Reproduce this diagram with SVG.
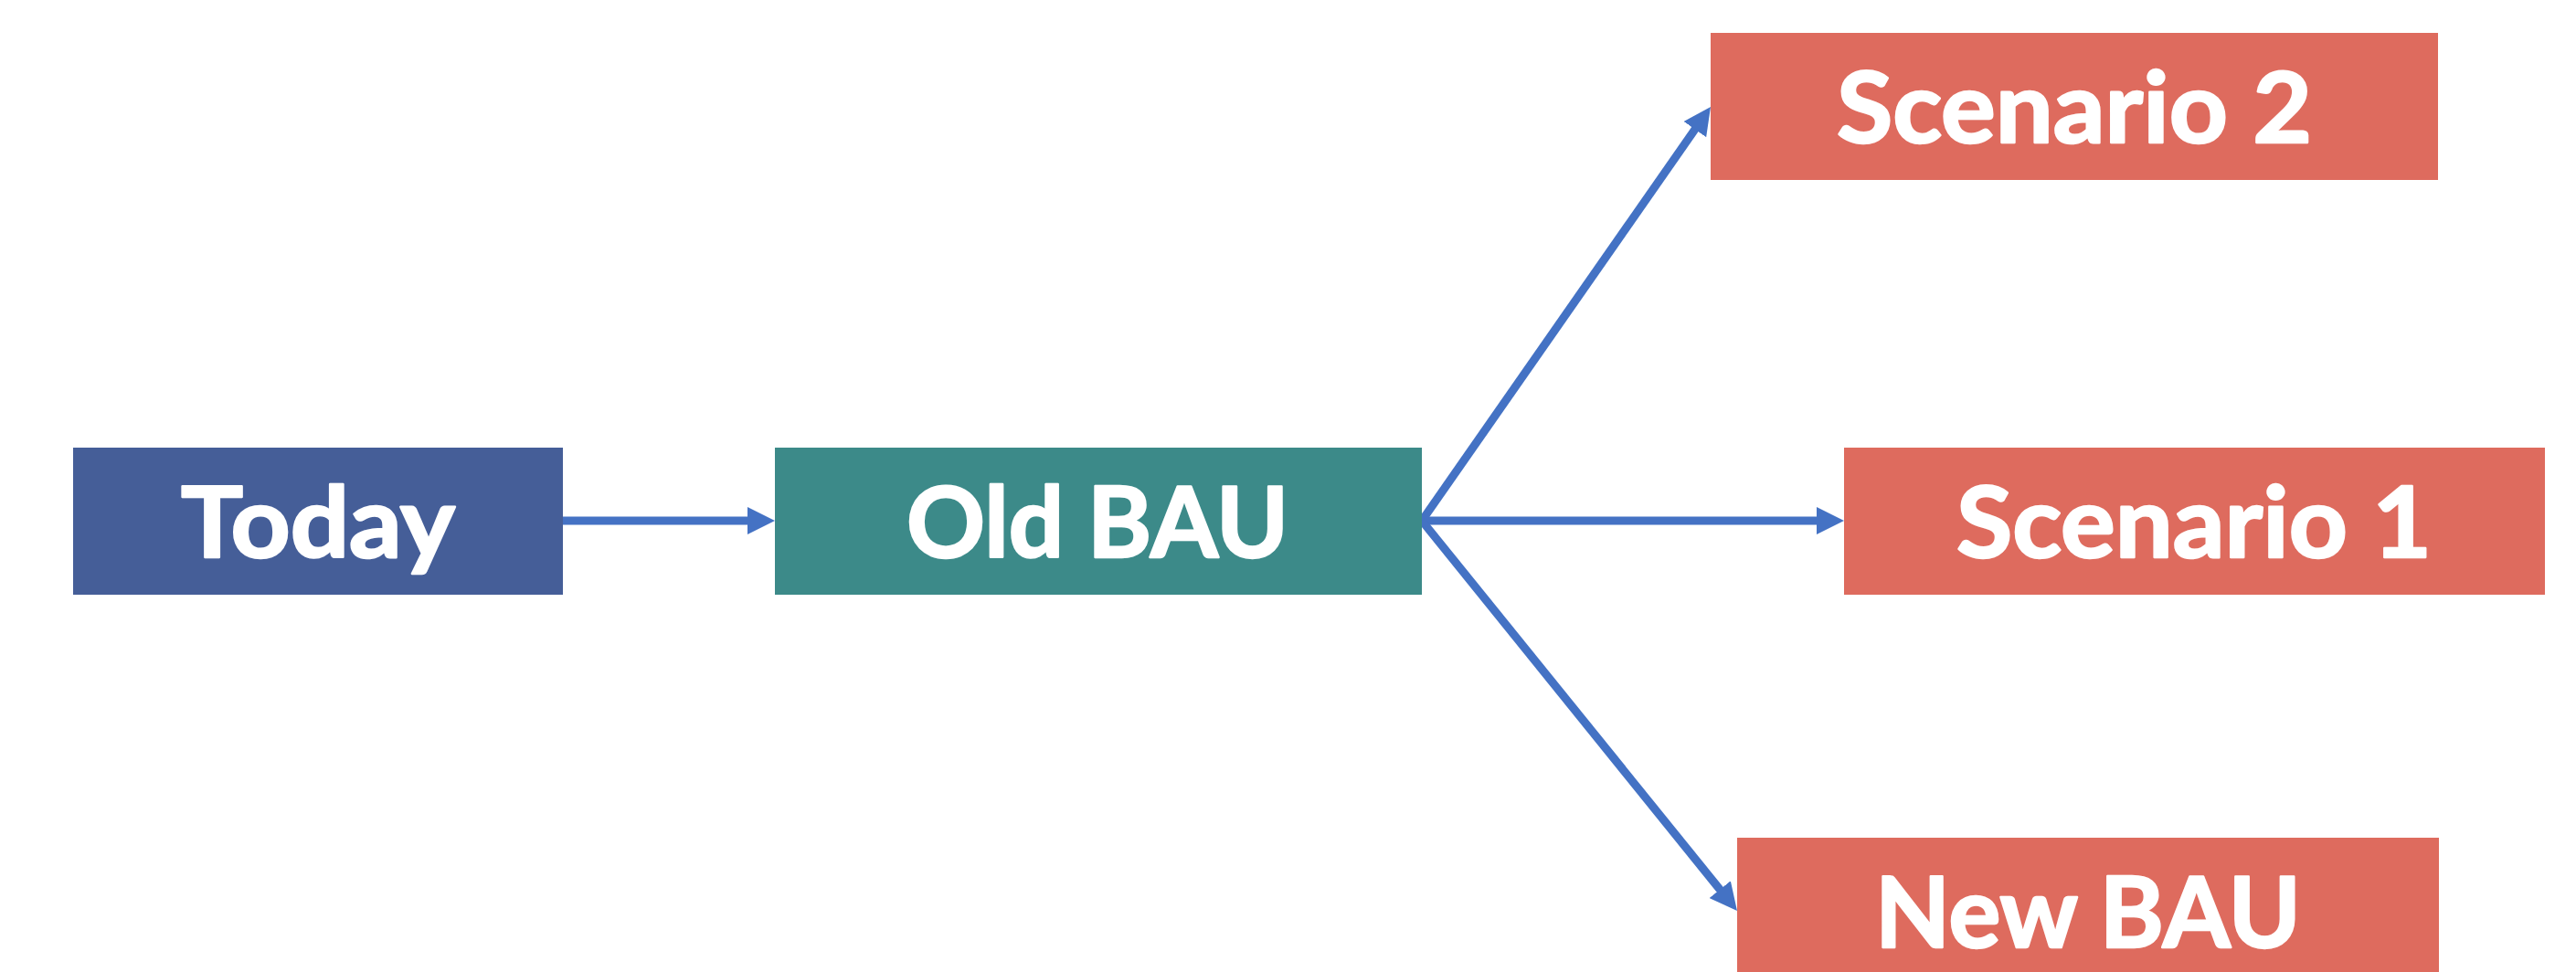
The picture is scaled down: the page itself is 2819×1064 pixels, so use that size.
<svg xmlns="http://www.w3.org/2000/svg" width="2819" height="1064" viewBox="0 0 2819 1064">
<style>
.lbl{font-family:Lato,"Open Sans","Liberation Sans",sans-serif;font-weight:bold;font-size:108px;fill:#ffffff;stroke:#ffffff;stroke-width:2.5;stroke-linejoin:round;text-anchor:middle}
.conn{stroke:#4472C4;stroke-width:9;fill:none;marker-end:url(#ah)}
</style>
<defs>
<marker id="ah" viewBox="0 0 30 30" refX="5" refY="15" markerWidth="30" markerHeight="30" orient="auto" markerUnits="userSpaceOnUse">
<path d="M0,0 L30,15 L0,30 z" fill="#4472C4"/>
</marker>
</defs>
<rect width="2819" height="1064" fill="#ffffff"/>
<g id="connectors">
<line class="conn" x1="616" y1="570" x2="823" y2="570"/>
<line class="conn" x1="1556" y1="570" x2="1857.7" y2="137.5"/>
<line class="conn" x1="1556" y1="570" x2="1993" y2="570"/>
<line class="conn" x1="1556" y1="570" x2="1885.3" y2="977.6"/>
</g>
<g id="today">
<rect x="80" y="490" width="536" height="161" fill="#455E98"/>
<text class="lbl" x="348" y="610" textLength="300" lengthAdjust="spacingAndGlyphs">Today</text>
</g>
<g id="old-bau">
<rect x="848" y="490" width="708" height="161" fill="#3C8A89"/>
<text class="lbl" x="1201" y="610" textLength="418" lengthAdjust="spacingAndGlyphs">Old BAU</text>
</g>
<g id="scenario-2">
<rect x="1872" y="36" width="796" height="161" fill="#DE6B5E"/>
<text class="lbl" x="2270" y="156" textLength="520" lengthAdjust="spacingAndGlyphs">Scenario 2</text>
</g>
<g id="scenario-1">
<rect x="2018" y="490" width="767" height="161" fill="#DE6B5E"/>
<text class="lbl" x="2401" y="610" textLength="520" lengthAdjust="spacingAndGlyphs">Scenario 1</text>
</g>
<g id="new-bau">
<rect x="1901" y="917" width="768" height="161" fill="#DE6B5E"/>
<text class="lbl" x="2285" y="1037" textLength="466" lengthAdjust="spacingAndGlyphs">New BAU</text>
</g>
</svg>
